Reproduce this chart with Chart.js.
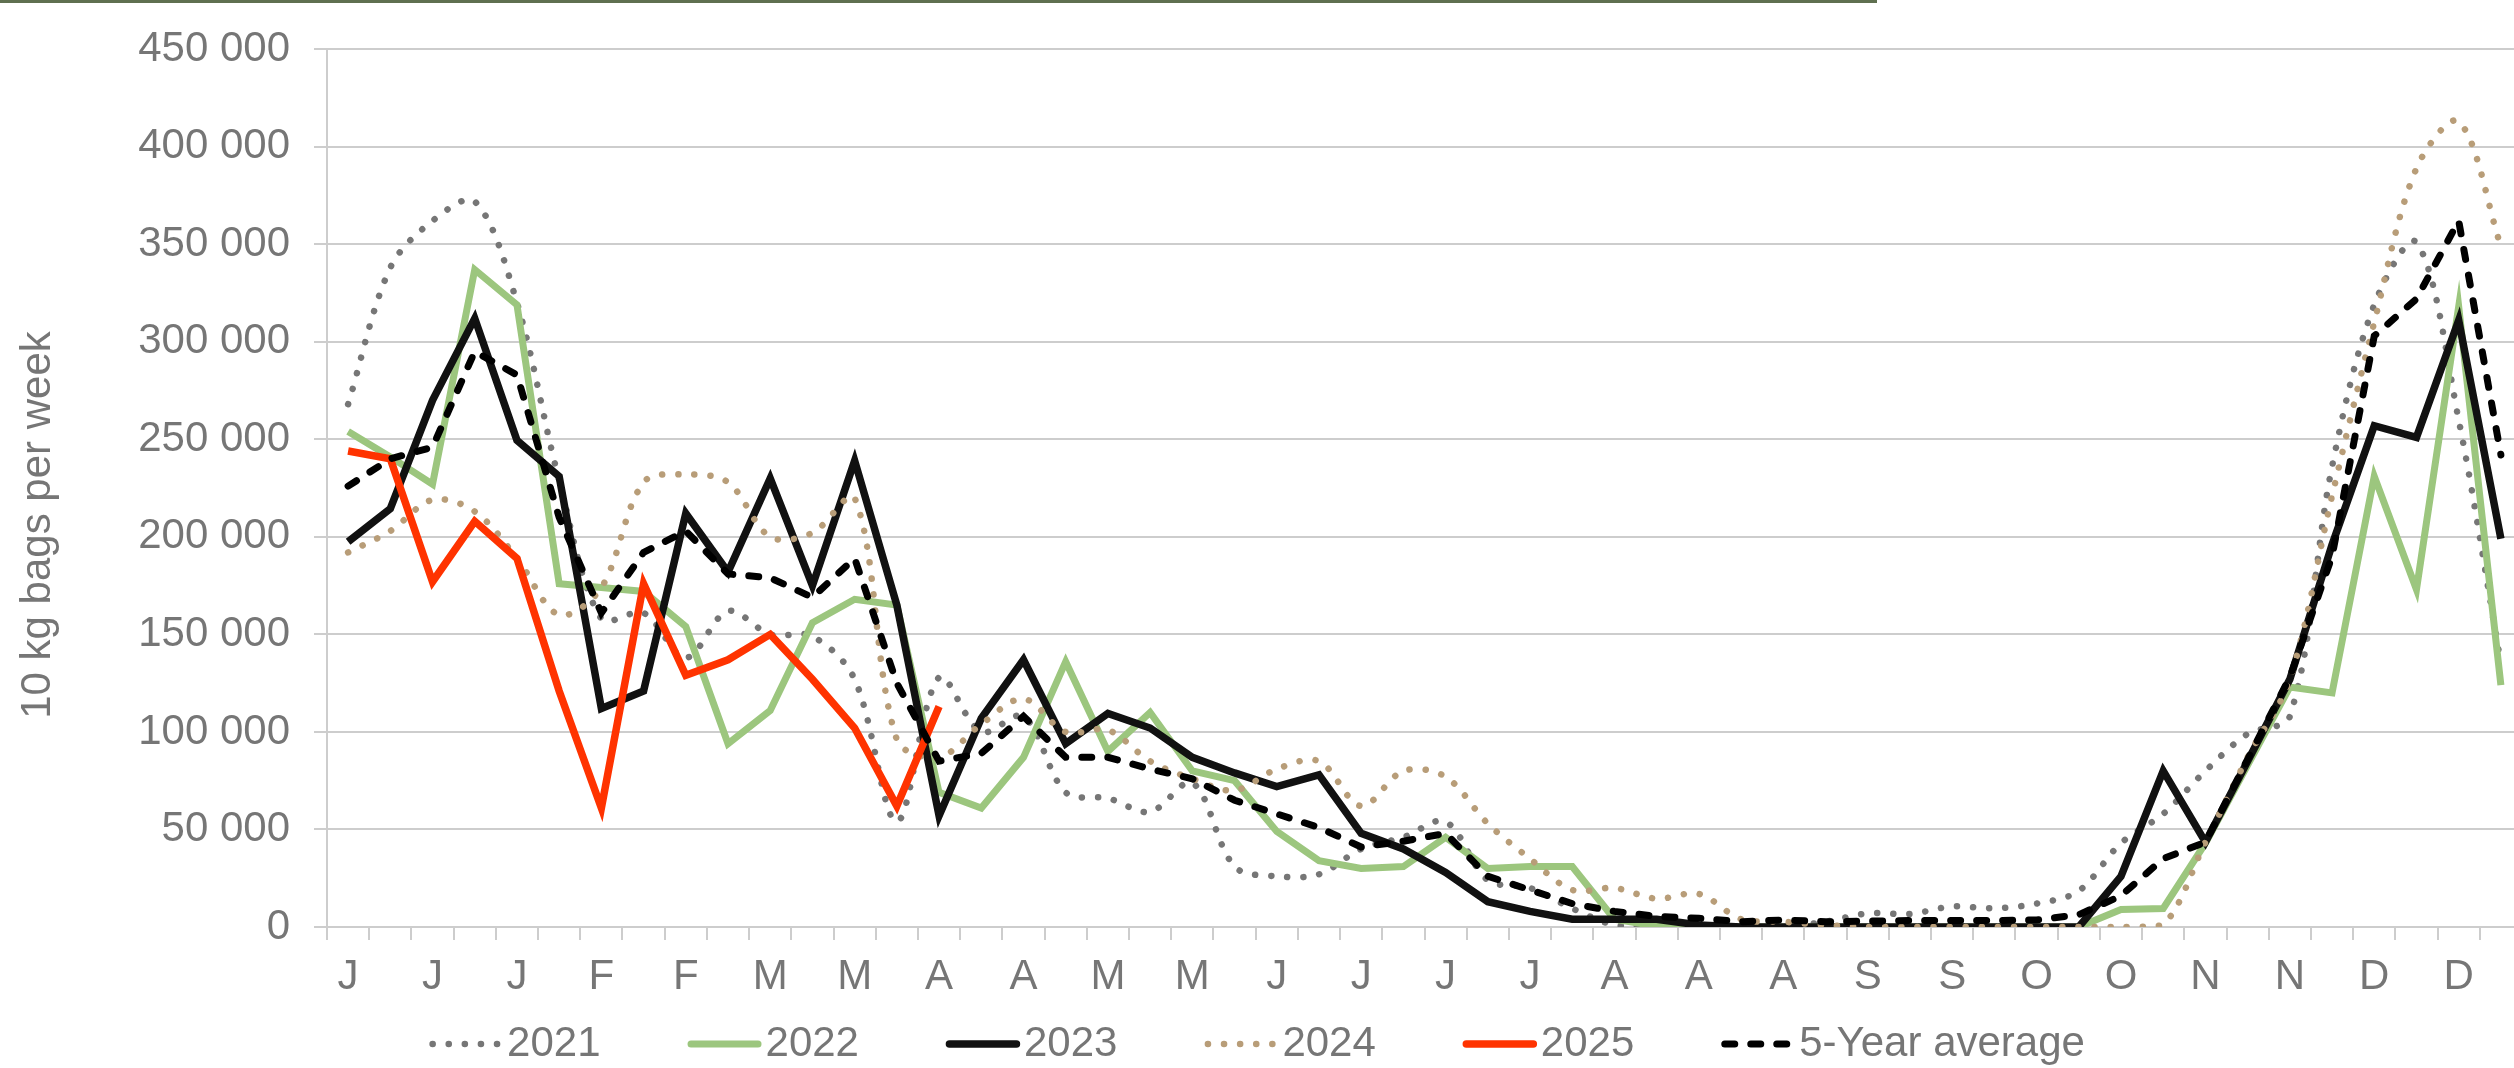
<!DOCTYPE html>
<html>
<head>
<meta charset="utf-8">
<script src="https://cdn.jsdelivr.net/npm/chart.js@4.4.1/dist/chart.umd.min.js"></script>
<style>
  html, body { margin: 0; padding: 0; background: #fff; overflow: hidden; }
  #wrap { position: relative; width: 2514px; height: 1068px; overflow: hidden; }
  #chart { position: absolute; left: 0; top: 0; }
  #topRule { position: absolute; left: 0; top: 0; width: 1877px; height: 3px; background: #5f7050; }
</style>
</head>
<body>
<div id="wrap">
  <canvas id="chart" width="2522" height="1068"></canvas>
  <div id="topRule"></div>
</div>
<script>
// weeks of the year (one point per week, a month letter on every other week)
const weeks = [1, 2, 3, 4, 5, 6, 7, 8, 9, 10, 11, 12, 13, 14, 15, 16, 17, 18, 19, 20, 21, 22, 23, 24, 25, 26,
  27, 28, 29, 30, 31, 32, 33, 34, 35, 36, 37, 38, 39, 40, 41, 42, 43, 44, 45, 46, 47, 48, 49, 50, 51, 52];
const monthTicks = ['J', 'J', 'J', 'F', 'F', 'M', 'M', 'A', 'A', 'M', 'M', 'J', 'J',
  'J', 'J', 'A', 'A', 'A', 'S', 'S', 'O', 'O', 'N', 'N', 'D', 'D'];
const yAxisTitle = '10 kg bags per week';

const y2021 = [268000, 338000, 362000, 372000, 320000, 229000, 158000, 161000, 138000, 162000,
  150000, 149000, 127000, 54000, 128000, 100000, 108000, 69000, 66000, 59000,
  74000, 31000, 26000, 27000, 40000, 46000, 54000, 24000, 20000, 9500,
  1000, 500, 0, 0, 0, 2700, 7000, 6700, 10500, 9600,
  12000, 18500, 43000, 58000, 80000, 99000, 108000, 236000, 319000, 351000,
  260000, 135000];
const y2022 = [254000, 241000, 227000, 337000, 319000, 176000, 174000, 172000, 154000, 94000,
  111000, 156000, 168000, 165000, 69000, 61000, 87000, 136000, 90000, 110000,
  80000, 75000, 49000, 34000, 30000, 31000, 46000, 30000, 31000, 31000,
  4000, 500, 0, 0, 0, 0, 0, 0, 0, 0,
  0, 0, 9000, 9500, 43000, 83000, 123000, 120000, 231000, 173000,
  318000, 124000];
const y2023 = [197500, 214500, 270000, 312000, 249500, 231000, 112000, 121000, 212000, 182000,
  230000, 175000, 239000, 165000, 57000, 107000, 137000, 94000, 109500, 102000,
  87000, 79000, 72000, 78000, 48000, 40000, 28000, 13000, 8000, 4000,
  4000, 4000, 1000, 0, 0, 0, 0, 0, 0, 0,
  0, 0, 26000, 80000, 43500, 85000, 127000, 196000, 257000, 251000,
  311000, 199000];
const y2024 = [192000, 203000, 219000, 213000, 189000, 160000, 174000, 228000, 232000, 228000,
  200000, 202000, 220000, 96000, 87000, 104000, 117000, 100000, 101000, 85000,
  76000, 70000, 81000, 85000, 62000, 80000, 77000, 53000, 35000, 19000,
  20000, 14500, 17000, 4000, 2700, 1000, 0, 0, 0, 0,
  0, 0, 0, 1000, 43500, 87000, 127000, 221000, 310000, 389000,
  413000, 349000];
const y2025 = [244000, 240000, 177000, 208000, 189000, 121000, 61000, 176000, 129000, 137000,
  150000, 127000, 102000, 62000, 113000];
const avg5 = [226000, 240000, 246000, 295000, 283000, 210000, 161000, 192000, 203000, 181000,
  179000, 169000, 189000, 125000, 85000, 89000, 108000, 87000, 87000, 81000,
  76000, 65000, 58000, 51000, 41000, 44000, 48000, 26000, 19000, 12000,
  8000, 5400, 4500, 2700, 3600, 2700, 3000, 3300, 3300, 3300,
  3600, 6300, 16000, 35000, 43500, 86000, 128000, 190000, 303000, 322000,
  362000, 242000];

const FONT = '"Liberation Sans", Arial, sans-serif';
const GREY_TEXT = '#767676';
const GRID = '#cdcdcd';

Chart.defaults.font.family = FONT;
Chart.defaults.color = GREY_TEXT;

// rotated axis title, placed like the original (a bit below the axis middle)
const yTitlePlugin = {
  id: 'yTitle',
  afterDraw(chart) {
    const ctx = chart.ctx;
    ctx.save();
    ctx.translate(50, 525);
    ctx.rotate(-Math.PI / 2);
    ctx.font = '42px ' + FONT;
    ctx.fillStyle = GREY_TEXT;
    ctx.textAlign = 'center';
    ctx.textBaseline = 'alphabetic';
    ctx.fillText(yAxisTitle, 0, 0);
    ctx.restore();
  }
};

// Excel style legend: short sample right against the text, wide gaps between items
const legendPlugin = {
  id: 'excelLegend',
  afterDraw(chart) {
    const ctx = chart.ctx;
    const sets = chart.data.datasets;
    const sample = 74, textGap = 4, itemGap = 87, y = 1044;
    ctx.save();
    ctx.font = '42px ' + FONT;
    const widths = sets.map(ds => ctx.measureText(ds.label).width);
    const total = sets.length * (sample + textGap) + widths.reduce((a, b) => a + b, 0) + (sets.length - 1) * itemGap;
    let x = 1257 - total / 2;
    sets.forEach((ds, i) => {
      ctx.beginPath();
      ctx.strokeStyle = ds.borderColor;
      ctx.lineWidth = ds.borderWidth;
      ctx.lineCap = 'round';
      ctx.setLineDash(ds.borderDash || []);
      ctx.moveTo(x + 3.5, y);
      ctx.lineTo(x + sample - 3.5, y);
      ctx.stroke();
      ctx.setLineDash([]);
      ctx.fillStyle = GREY_TEXT;
      ctx.textAlign = 'left';
      ctx.textBaseline = 'middle';
      ctx.fillText(ds.label, x + sample + textGap, y);
      x += sample + textGap + widths[i] + itemGap;
    });
    ctx.restore();
  }
};

const dotted = [0.1, 16];

new Chart(document.getElementById('chart'), {
  type: 'line',
  data: {
    labels: weeks,
    datasets: [
      {
        label: '2021', data: y2021, borderColor: '#767676',
        borderWidth: 6.5, borderDash: dotted, borderCapStyle: 'round', tension: 0.33, order: 6
      },
      {
        label: '2022', data: y2022, borderColor: '#9cc67e',
        borderWidth: 7, tension: 0, order: 5
      },
      {
        label: '2023', data: y2023, borderColor: '#111111',
        borderWidth: 7.5, tension: 0, order: 4
      },
      {
        label: '2024', data: y2024, borderColor: '#b89d78',
        borderWidth: 6.5, borderDash: dotted, borderCapStyle: 'round', tension: 0.33, order: 3
      },
      {
        label: '2025', data: y2025, borderColor: '#ff3300',
        borderWidth: 7.5, tension: 0, order: 2
      },
      {
        label: '5-Year average', data: avg5, borderColor: '#000000',
        borderWidth: 7, borderDash: [10, 16], borderCapStyle: 'round', tension: 0, order: 1
      }
    ]
  },
  options: {
    responsive: false,
    animation: false,
    elements: { point: { radius: 0, hoverRadius: 0 } },
    layout: { padding: { top: 28, left: 0, right: 0, bottom: 54 } },
    plugins: {
      tooltip: { enabled: false },
      legend: { display: false }
    },
    scales: {
      x: {
        type: 'category',
        offset: true,
        afterFit(scale) { scale.height = 87; },
        grid: {
          offset: true,
          drawOnChartArea: false,
          drawTicks: true,
          tickLength: 13,
          color: GRID,
          lineWidth: 2
        },
        border: { display: true, color: GRID, width: 2 },
        ticks: {
          autoSkip: false,
          maxRotation: 0,
          padding: 12,
          font: { size: 42 },
          color: GREY_TEXT,
          callback: (v, i) => (i % 2 === 0 ? monthTicks[i / 2] : '')
        }
      },
      y: {
        min: 0,
        max: 450000,
        afterFit(scale) { scale.width = 327; },
        grid: { color: GRID, lineWidth: 2, tickLength: 13 },
        border: { display: true, color: GRID, width: 2 },
        ticks: {
          stepSize: 50000,
          padding: 24,
          font: { size: 42 },
          color: GREY_TEXT,
          callback: (v) => String(v).replace(/\B(?=(\d{3})+(?!\d))/g, ' ')
        }
      }
    }
  },
  plugins: [yTitlePlugin, legendPlugin]
});
</script>
</body>
</html>
